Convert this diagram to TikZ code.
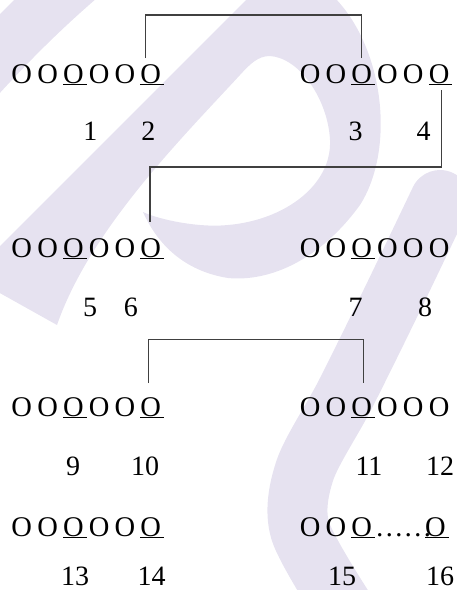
\documentclass[tikz,border=0pt]{standalone}
\usepackage{fontspec}
\setmainfont{Liberation Serif}
\definecolor{wmark}{RGB}{230,226,240}
\newcommand{\gap}{\kern5.2pt}
\newcommand{\uO}{\rlap{\rule[-1.4pt]{23.5pt}{0.9pt}}O}

\begin{document}
\begin{tikzpicture}[x=1pt,y=-1pt,
  grp/.style={anchor=base west,inner sep=0pt,font=\fontsize{28.5}{34}\selectfont},
  num/.style={anchor=base,inner sep=0pt,font=\fontsize{28}{34}\selectfont},
  link/.style={black!75,line width=1.1pt}]
  \useasboundingbox (0,0) rectangle (457,590);
  % faint background mark
  \begin{scope}
    \clip (0,0) rectangle (457,590);
    \fill[wmark] (-2,16) -- (16,-2) -- (97,-2) .. controls (60,30) and (30,60) .. (-2,95) -- cycle;
    \fill[wmark] (-2,248) -- (248,-2) -- (335,-2)
      .. controls (385,50) and (395,150) .. (360,205)
      .. controls (320,260) and (270,282) .. (228,278)
      .. controls (190,272) and (160,250) .. (143,212)
      .. controls (160,220) and (200,228) .. (228,225)
      .. controls (285,220) and (332,185) .. (330,140)
      .. controls (328,100) and (300,58) .. (270,56)
      .. controls (258,56) and (250,64) .. (240,75)
      .. controls (180,140) and (90,230) .. (57,325)
      -- (-2,292) -- cycle;
    \draw[wmark,line width=60pt,line cap=round] plot[smooth] coordinates
      {(440,200) (392,300) (345,395) (305,470) (300,530) (345,610)};
  \end{scope}
  % rows of O
  \node[grp] (g1) at (11.3,83) {O\gap O\gap\uO\gap O\gap O\gap\uO};
  \node[grp] (g2) at (299.7,83) {O\gap O\gap\uO\gap O\gap O\gap\uO};
  \node[grp] (g3) at (11.3,257) {O\gap O\gap\uO\gap O\gap O\gap\uO};
  \node[grp] (g4) at (299.7,257) {O\gap O\gap\uO\gap O\gap O\gap O};
  \node[grp] (g5) at (11.3,416) {O\gap O\gap\uO\gap O\gap O\gap\uO};
  \node[grp] (g6) at (299.7,416) {O\gap O\gap\uO\gap O\gap O\gap O};
  \node[grp] (g7) at (11.3,536) {O\gap O\gap\uO\gap O\gap O\gap\uO};
  \node[grp] (g8) at (299.7,536) {O\gap O\gap\uO\kern3pt……\kern-7pt\uO};
  % numbers
  \node[num] (n1) at (90.3,140) {1};
  \node[num] (n2) at (148.3,140) {2};
  \node[num] (n3) at (355.5,140) {3};
  \node[num] (n4) at (423.5,140) {4};
  \node[num] (n5) at (90,316) {5};
  \node[num] (n6) at (130.8,316) {6};
  \node[num] (n7) at (355.5,316) {7};
  \node[num] (n8) at (425,316) {8};
  \node[num] (n9) at (73,475) {9};
  \node[num] (n10) at (145,475) {10};
  \node[num] (n11) at (369,475) {11};
  \node[num] (n12) at (440,475) {12};
  \node[num] (n13) at (75,585) {13};
  \node[num] (n14) at (151.7,585) {14};
  \node[num] (n15) at (342,585) {15};
  \node[num] (n16) at (440,585) {16};
  % brackets
  \coordinate (c1) at (145.7,58);
  \coordinate (c2) at (361.3,58);
  \coordinate (lv1) at (0,15);
  \draw[link] (c1) -- (c1 |- lv1) -| (c2);
  \coordinate (c3) at (441.7,90);
  \coordinate (c4) at (150,222);
  \coordinate (lv2) at (0,167);
  \draw[link] (c3) -- (c3 |- lv2) -| (c4);
  \coordinate (c5) at (148.3,383);
  \coordinate (c6) at (363.7,383);
  \coordinate (lv3) at (0,339.5);
  \draw[link] (c5) -- (c5 |- lv3) -| (c6);
\end{tikzpicture}
\end{document}
